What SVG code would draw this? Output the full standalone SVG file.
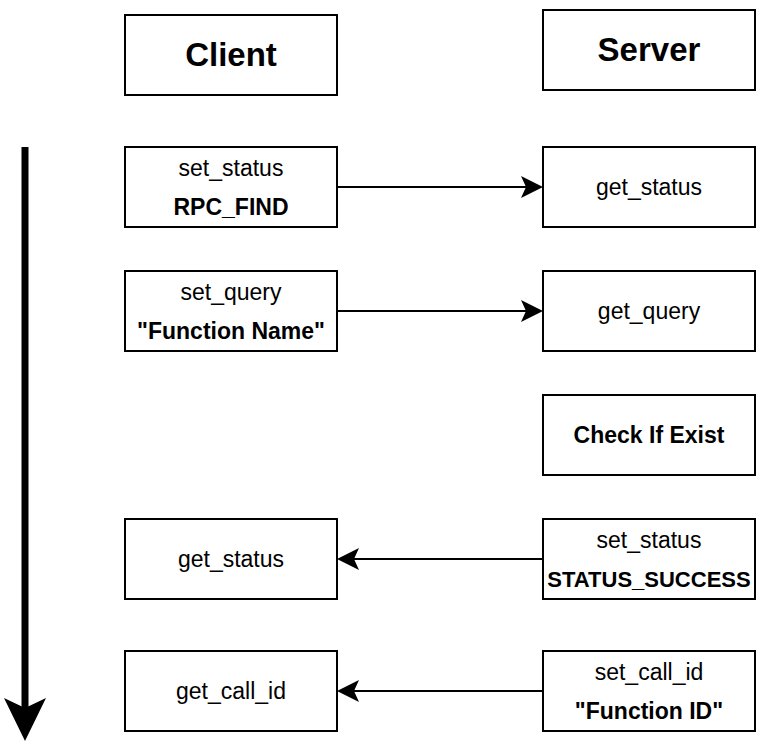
<svg xmlns="http://www.w3.org/2000/svg" width="768" height="748" viewBox="0 0 768 748">
<style>
.box{fill:#fff;stroke:#000;stroke-width:2}
text{font-family:"Liberation Sans",Arial,Helvetica,sans-serif;fill:#000;text-anchor:middle}
.r{font-size:23px}
.b{font-size:23px;font-weight:bold}
.t{font-size:33px;font-weight:bold}
.c{stroke:#000;stroke-width:2;fill:none}
</style>
<rect width="768" height="748" fill="#fff"/>
<g id="client">
<rect class="box" x="125" y="15" width="212" height="80"/>
<text class="t" x="231" y="66">Client</text>
</g>
<g id="server">
<rect class="box" x="543" y="10" width="212" height="80"/>
<text class="t" x="649" y="61">Server</text>
</g>
<g id="c_set_status">
<rect class="box" x="125" y="147" width="212" height="80"/>
<text class="r" x="231" y="176">set_status</text>
<text class="b" x="231" y="215">RPC_FIND</text>
</g>
<g id="s_get_status">
<rect class="box" x="543" y="147" width="212" height="80"/>
<text class="r" x="649" y="195">get_status</text>
</g>
<g id="c_set_query">
<rect class="box" x="125" y="271" width="212" height="80"/>
<text class="r" x="231" y="300">set_query</text>
<text class="b" x="231" y="339">"Function Name"</text>
</g>
<g id="s_get_query">
<rect class="box" x="543" y="271" width="212" height="80"/>
<text class="r" x="649" y="319">get_query</text>
</g>
<g id="s_check">
<rect class="box" x="543" y="395" width="212" height="80"/>
<text class="b" x="649" y="443">Check If Exist</text>
</g>
<g id="c_get_status">
<rect class="box" x="125" y="519" width="212" height="80"/>
<text class="r" x="231" y="567">get_status</text>
</g>
<g id="s_set_status">
<rect class="box" x="543" y="519" width="212" height="80"/>
<text class="r" x="649" y="548">set_status</text>
<text class="b" x="649" y="587" style="font-size:22px">STATUS_SUCCESS</text>
</g>
<g id="c_get_call_id">
<rect class="box" x="125" y="651" width="212" height="80"/>
<text class="r" x="231" y="699">get_call_id</text>
</g>
<g id="s_set_call_id">
<rect class="box" x="543" y="651" width="212" height="80"/>
<text class="r" x="649" y="680">set_call_id</text>
<text class="b" x="649" y="719">"Function ID"</text>
</g>
<g id="connectors">
<line class="c" x1="337" y1="187" x2="527" y2="187"/>
<polygon points="543,187 521,176 526,187 521,198"/>
<line class="c" x1="337" y1="311" x2="527" y2="311"/>
<polygon points="543,311 521,300 526,311 521,322"/>
<line class="c" x1="543" y1="559" x2="353" y2="559"/>
<polygon points="337,559 359,548 354,559 359,570"/>
<line class="c" x1="543" y1="691" x2="353" y2="691"/>
<polygon points="337,691 359,680 354,691 359,702"/>
<line x1="25" y1="147" x2="25" y2="712" stroke="#000" stroke-width="7"/>
<polygon points="25,741 4,698 25,708 46,698"/>
</g>
</svg>
